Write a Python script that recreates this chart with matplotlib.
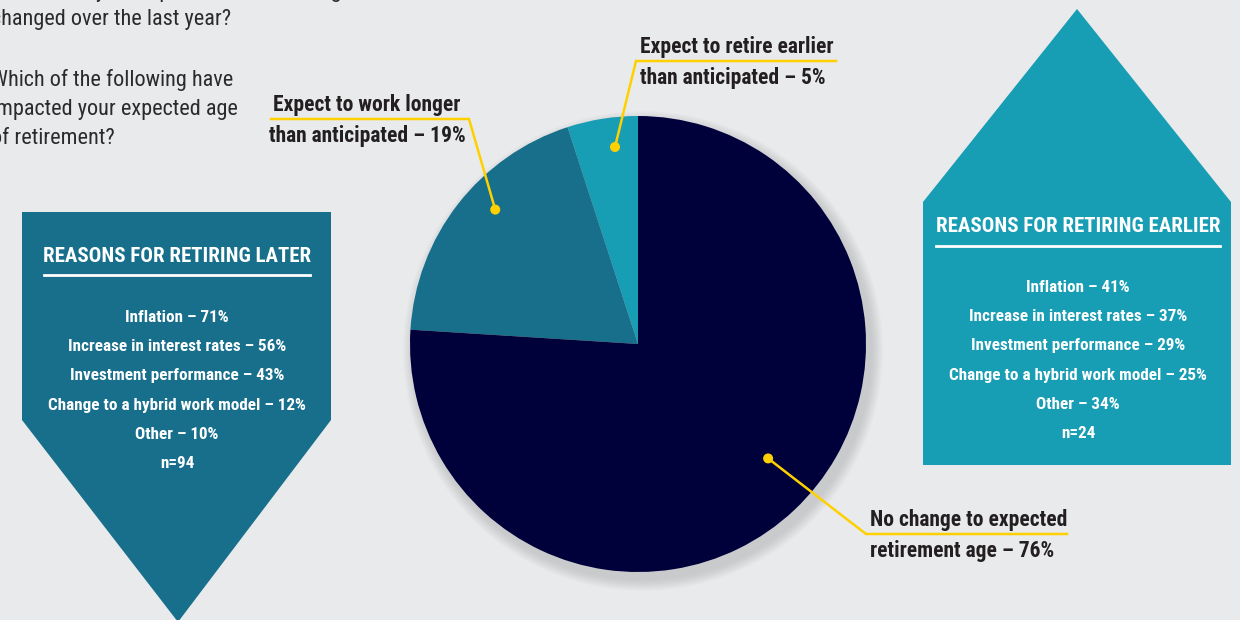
import numpy as np
import matplotlib
matplotlib.use("Agg")
import matplotlib.pyplot as plt
from matplotlib import font_manager as fm
from matplotlib.patches import Polygon, Circle

# pie data
shares = [5, 19, 76]
slice_labels = [["Expect to retire earlier", "than anticipated \u2013 5%"],
                ["Expect to work longer", "than anticipated \u2013 19%"],
                ["No change to expected", "retirement age \u2013 76%"]]
slice_colors = ["#179DB4", "#176F8B", "#00003A"]

# reasons boxes
reasons = ["Inflation", "Increase in interest rates", "Investment performance",
           "Change to a hybrid work model", "Other"]
later_pct = [71, 56, 43, 12, 10]
later_n = 94
earlier_pct = [41, 37, 29, 25, 34]
earlier_n = 24

question_lines = ["Q: How has your expected retirement age",
                  "changed over the last year?",
                  "",
                  "Which of the following have",
                  "impacted your expected age",
                  "of retirement?"]

# pick a condensed font if there is one
names = {f.name for f in fm.fontManager.ttflist}
cond = next((n for n in ["Roboto Condensed", "Liberation Sans Narrow", "DejaVu Sans"] if n in names), "DejaVu Sans")

W, H = 1240, 620
BG = "#E9EAEC"
YEL = "#FFD000"
INK = "#231F20"

fig = plt.figure(figsize=(12.4, 6.2), dpi=100, facecolor=BG)
ax = fig.add_axes([0, 0, 1, 1])
ax.set_facecolor(BG)


def Y(y):
    return H - y


def txt(x, y, s, **kw):
    kw.setdefault("family", cond)
    kw.setdefault("fontstretch", "condensed")
    return ax.text(x, Y(y), s, **kw)


# question text (cut at the left edge like the original)
q_y = [-9, 20, 50, 80, 110, 139]
for s, y in zip(question_lines, q_y):
    if s:
        txt(-9, y, s, fontsize=16, color="#2B2B2B", va="center", ha="left")

# left box: arrow pointing down
left_box = Polygon([(22, Y(212)), (331, Y(212)), (331, Y(420)), (178, Y(622)), (22, Y(420))],
                   closed=True, facecolor="#176F8B", edgecolor="none", zorder=1)
ax.add_patch(left_box)
txt(177, 257, "REASONS FOR RETIRING LATER", fontsize=15, fontweight="bold", color="white",
    ha="center", va="center", zorder=3)
ax.plot([44, 310], [Y(275), Y(275)], color="white", lw=2, zorder=3)
later_lines = [f"{r} \u2013 {p}%" for r, p in zip(reasons, later_pct)] + [f"n={later_n}"]
for i, s in enumerate(later_lines):
    txt(177, 317 + i * 29.4, s, fontsize=12.3, fontweight="bold", color="white",
        ha="center", va="center", zorder=3)

# right box: house shape
right_box = Polygon([(923, Y(202)), (1077, Y(9)), (1231, Y(202)), (1231, Y(465)), (923, Y(465))],
                    closed=True, facecolor="#179DB4", edgecolor="none", zorder=1)
ax.add_patch(right_box)
txt(1078, 227, "REASONS FOR RETIRING EARLIER", fontsize=15, fontweight="bold", color="white",
    ha="center", va="center", zorder=3)
ax.plot([936, 1220], [Y(246), Y(246)], color="white", lw=2, zorder=3)
earlier_lines = [f"{r} \u2013 {p}%" for r, p in zip(reasons, earlier_pct)] + [f"n={earlier_n}"]
for i, s in enumerate(earlier_lines):
    txt(1078, 287 + i * 29.4, s, fontsize=12.3, fontweight="bold", color="white",
        ha="center", va="center", zorder=3)

# pie with soft shadow
cx, cy, R = 638, 344, 228
for k in range(12):
    ax.add_patch(Circle((cx + 5, Y(cy + 7)), R + 12 - k, facecolor="#9A9A9A",
                        edgecolor="none", alpha=0.035, zorder=1))
wedges, _ = ax.pie(shares, colors=slice_colors, startangle=90, counterclock=True,
                   center=(cx, Y(cy)), radius=R, wedgeprops=dict(linewidth=0, zorder=2))

# callouts: (angle fraction in wedge, radius fraction, elbow, line end, text x, first line y, ha)
callouts = [
    (0.37, 0.87, (636, 61), (836, 61), 640, 47, "left"),
    (0.42, 0.86, (469, 119), (271, 119), 367, 105, "center"),
    (0.52, 0.76, (866, 534), (1067, 534), 870, 520, "left"),
]
for w, lab, (fa, fr, elbow, end, tx, ty, ha) in zip(wedges, slice_labels, callouts):
    ang = np.deg2rad(w.theta1 + fa * (w.theta2 - w.theta1))
    px, py = cx + fr * R * np.cos(ang), Y(cy) + fr * R * np.sin(ang)
    ax.plot([px, elbow[0], end[0]], [py, Y(elbow[1]), Y(end[1])], color=YEL, lw=1.8,
            solid_joinstyle="miter", zorder=4)
    ax.add_patch(Circle((px, py), 5, facecolor=YEL, edgecolor="none", zorder=5))
    for j, s in enumerate(lab):
        txt(tx, ty + j * 31, s, fontsize=15.5, fontweight="bold", color=INK, ha=ha,
            va="center", zorder=6)

ax.set_xlim(0, W)
ax.set_ylim(0, H)
ax.set_aspect("equal")
ax.axis("off")
fig.savefig("out.png", dpi=100, facecolor=BG)
